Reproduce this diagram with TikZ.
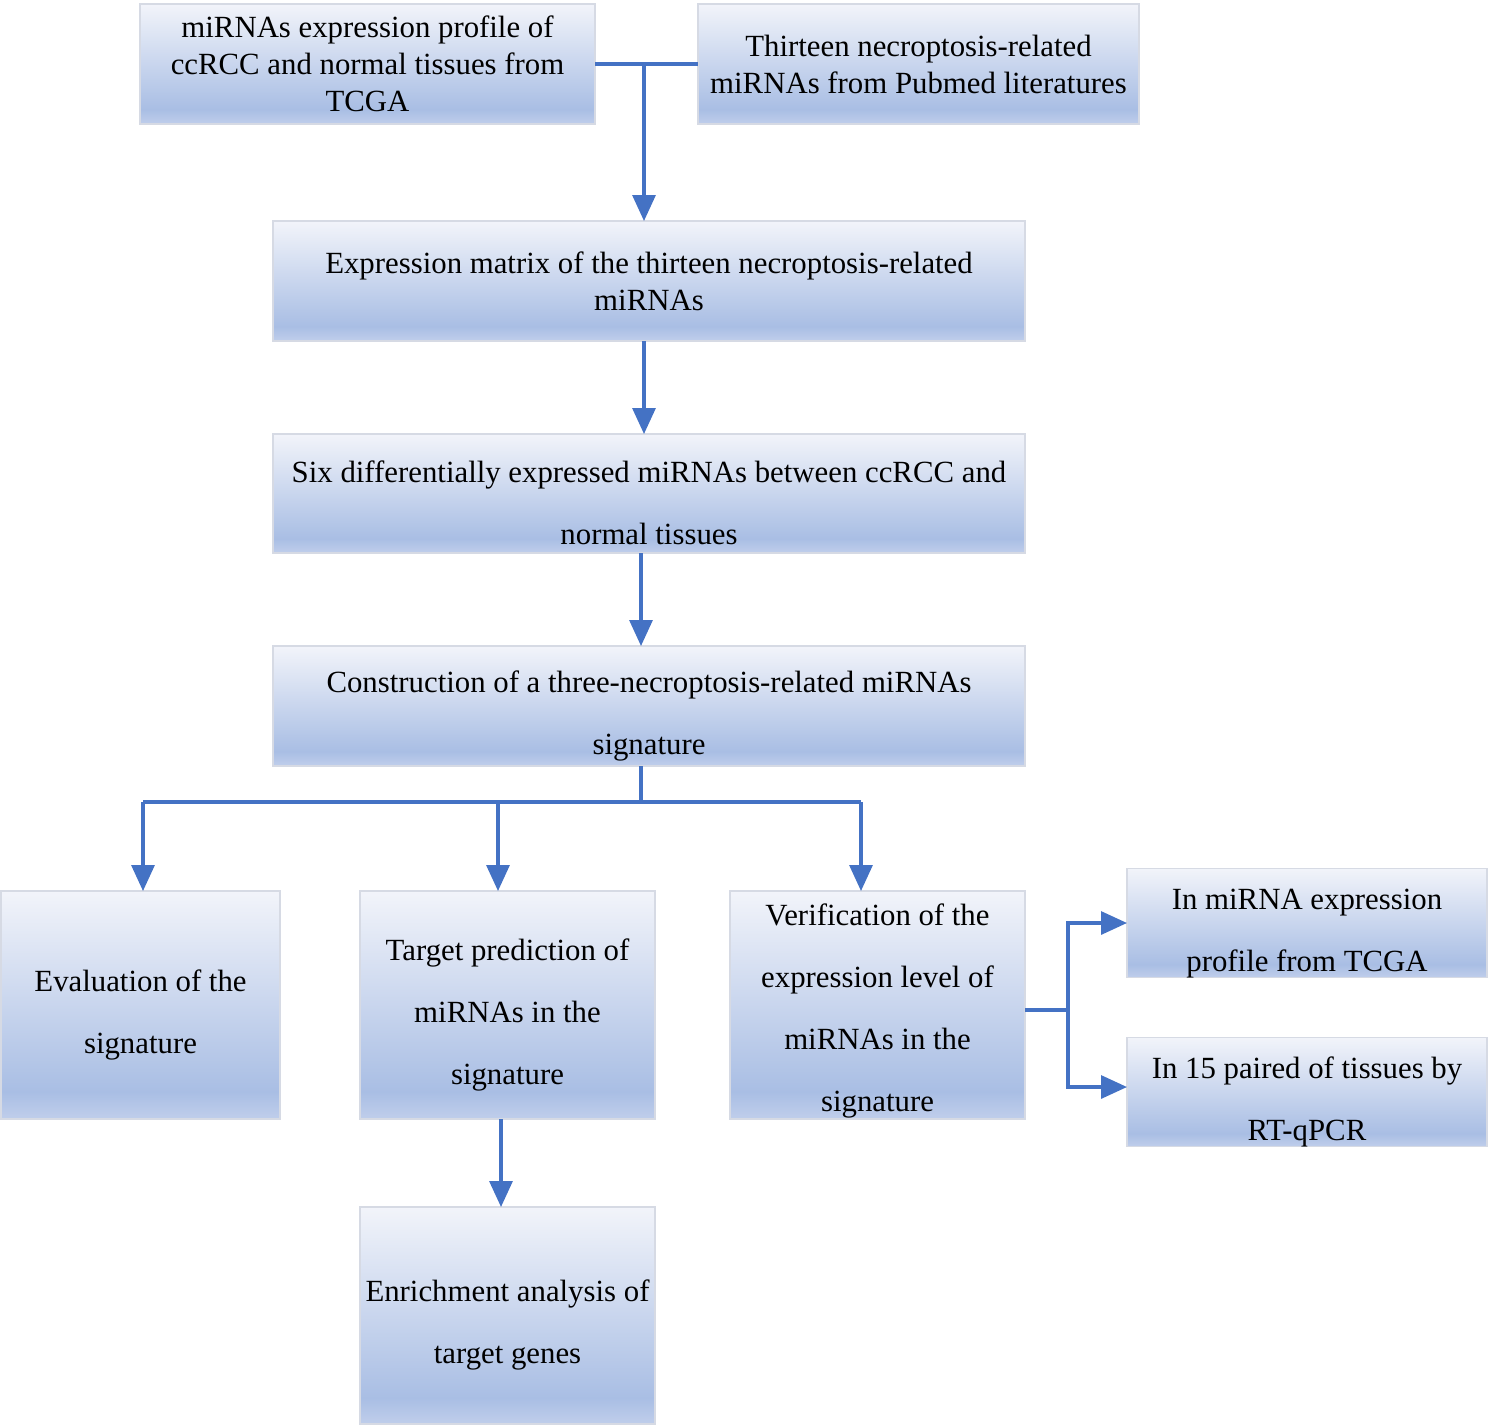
\documentclass[tikz,border=0pt]{standalone}
\usepackage{fontspec}
\setmainfont{Liberation Serif}
\usetikzlibrary{arrows.meta}
\definecolor{boxtop}{RGB}{242,244,250}
\definecolor{boxmid}{RGB}{169,190,228}
\definecolor{boxbot}{RGB}{192,206,235}
\definecolor{boxline}{RGB}{214,218,228}
\definecolor{flowblue}{RGB}{68,114,196}
\pgfdeclareverticalshading{boxshade}{100bp}{color(0bp)=(boxbot); color(25bp)=(boxbot); color(31bp)=(boxmid); color(75bp)=(boxtop); color(100bp)=(boxtop)}
\newcommand{\lift}[1][20.5pt]{\rule{0pt}{#1}}
\begin{document}
\begin{tikzpicture}[x=0.5pt, y=-0.5pt, font=\fontsize{15.4}{18.5}\selectfont,
    box/.style={draw=boxline, line width=0.6pt, shading=boxshade, align=center, inner sep=0pt, outer sep=0pt},
    wide/.style={font=\fontsize{15.4}{31}\selectfont},
    arr/.style={draw=flowblue, line width=1.6pt, -{Triangle[length=13pt, width=11.5pt]}},
    link/.style={draw=flowblue, line width=1.6pt}]
    \useasboundingbox (0,0) rectangle (1489,1426);
    \node[box, minimum width=227.5pt, minimum height=60pt] (src) at (367.5, 64) {miRNAs expression profile of\\ccRCC and normal tissues from\\TCGA};
    \node[box, minimum width=220.5pt, minimum height=60pt] (lit) at (918.5, 64) {Thirteen necroptosis-related\\miRNAs from Pubmed literatures};
    \node[box, minimum width=376pt, minimum height=60pt] (matrix) at (649, 281) {Expression matrix of the thirteen necroptosis-related\\miRNAs};
    \node[box, wide, minimum width=376pt, minimum height=59.5pt] (diff) at (649, 493.5) {\lift Six differentially expressed miRNAs between ccRCC and\\normal tissues};
    \node[box, wide, minimum width=376pt, minimum height=60pt] (cons) at (649, 706) {\lift Construction of a three-necroptosis-related miRNAs\\signature};
    \node[box, wide, minimum width=139.5pt, minimum height=114pt] (eval) at (140.5, 1005) {\lift Evaluation of the\\signature};
    \node[box, wide, minimum width=147.5pt, minimum height=114pt] (target) at (507.5, 1005) {\lift Target prediction of\\miRNAs in the\\signature};
    \node[box, wide, minimum width=147.5pt, minimum height=114pt] (verif) at (877.5, 1005) {\lift[17pt]Verification of the\\expression level of\\miRNAs in the\\signature};
    \node[box, wide, minimum width=180pt, minimum height=54pt] (tcga) at (1307, 923) {\lift In miRNA expression\\profile from TCGA};
    \node[box, wide, minimum width=180pt, minimum height=54pt] (rtq) at (1307, 1092) {\lift In 15 paired of tissues by\\RT-qPCR};
    \node[box, wide, minimum width=147.5pt, minimum height=108.5pt] (enrich) at (507.5, 1315.5) {\lift Enrichment analysis of\\target genes};
    % joints
    \coordinate (j1) at (644, 64);
    \coordinate (j2) at (641, 802);
    \coordinate (j3) at (1068, 1010);
    \coordinate (c1) at (644, 341);
    \coordinate (c2) at (641, 553);
    \coordinate (s1) at (143, 802);
    \coordinate (s2) at (498, 802);
    \coordinate (s3) at (861, 802);
    \coordinate (t1) at (501, 1119);
    \coordinate (r1) at (1127, 1087);
    % top merge
    \draw[link] (src.east) -- (lit.west);
    \draw[arr] (j1) -- (j1 |- matrix.north);
    % main chain
    \draw[arr] (c1) -- (c1 |- diff.north);
    \draw[arr] (c2) -- (c2 |- cons.north);
    % split into three
    \draw[link] (j2 |- cons.south) -- (j2);
    \draw[link] (s1) -- (s3);
    \draw[arr] (s1) -- (s1 |- eval.north);
    \draw[arr] (s2) -- (s2 |- target.north);
    \draw[arr] (s3) -- (s3 |- verif.north);
    \draw[arr] (t1) -- (t1 |- enrich.north);
    % verification branches
    \draw[link] (verif.east |- j3) -- (j3);
    \draw[arr] (j3) |- (tcga.west);
    \draw[arr] (j3) |- (r1);
\end{tikzpicture}
\end{document}
